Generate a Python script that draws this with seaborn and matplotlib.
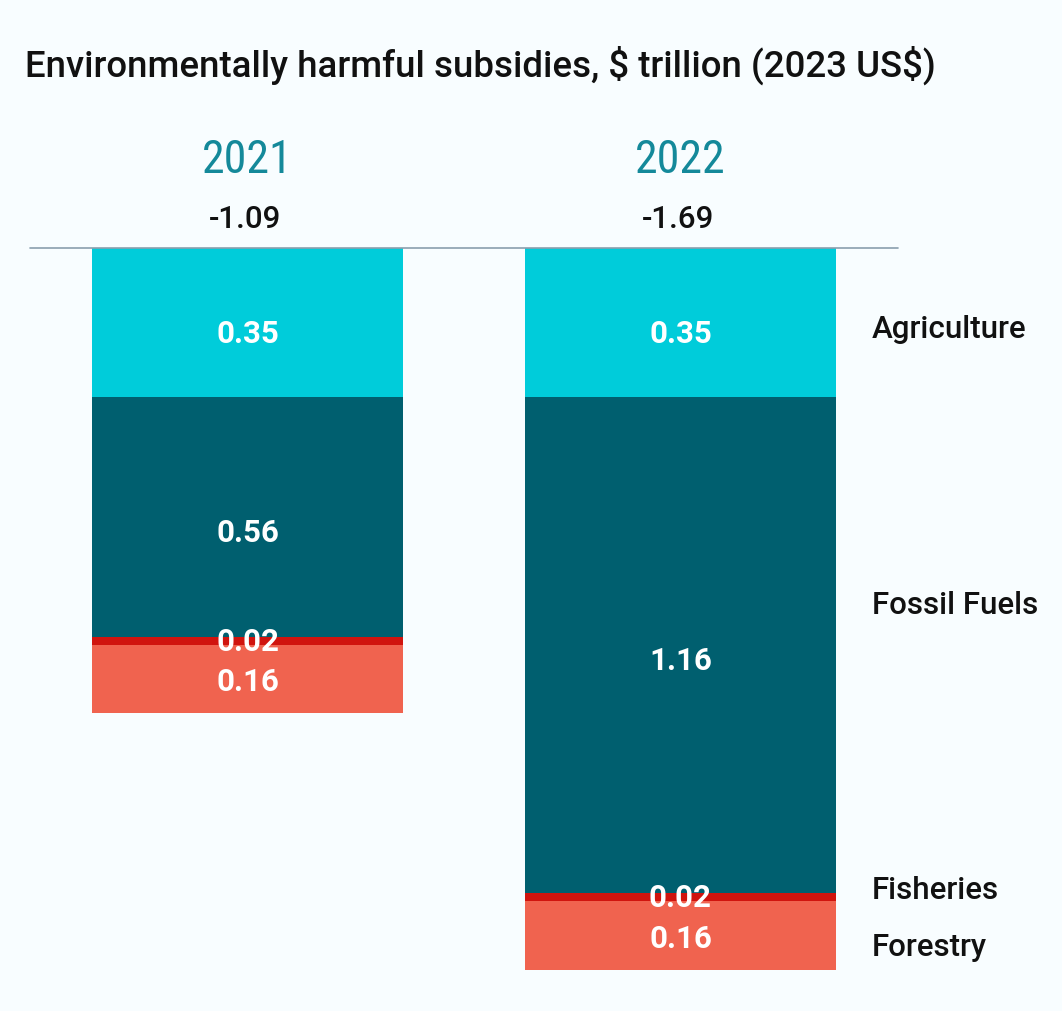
import numpy as np
import pandas as pd
import matplotlib
matplotlib.use("Agg")
import matplotlib.pyplot as plt
import seaborn as sns

# ---- data ----
years = ["2021", "2022"]
categories = ["Agriculture", "Fossil Fuels", "Fisheries", "Forestry"]
agriculture = [0.35, 0.35]
fossil_fuels = [0.56, 1.16]
fisheries = [0.02, 0.02]
forestry = [0.16, 0.16]
totals = [-1.09, -1.69]

colors = {"Agriculture": "#00CCDA", "Fossil Fuels": "#005F6F",
          "Fisheries": "#D0140E", "Forestry": "#F0634F"}
BG = "#F8FDFF"

sns.set_theme(style="white")
plt.rcParams["font.family"] = ["Roboto", "DejaVu Sans"]

W, H = 1062, 1012
fig = plt.figure(figsize=(W / 100, H / 100), dpi=100, facecolor=BG)
ax = fig.add_axes([0, 0, 1, 1 - 249 / H])
ax.set_facecolor(BG)

series = [agriculture, fossil_fuels, fisheries, forestry]
df = pd.DataFrame({"year": np.repeat(years, len(categories)),
                   "category": categories * len(years),
                   "value": [series[c][y] for y in range(len(years)) for c in range(len(categories))]})
df["cum"] = df.groupby("year")["value"].cumsum()
df["start"] = df["cum"] - df["value"]

# draw cumulative extents from deepest to shallowest so each segment shows
for cat in categories[::-1]:
    sub = df[df["category"] == cat]
    sns.barplot(data=sub, x="year", y=-sub["cum"].values, order=years,
                color=colors[cat], width=0.718, saturation=1, ax=ax,
                linewidth=0, edgecolor="none")

px_per_unit = 427.0
ax.set_ylim(-(H - 249) / px_per_unit, 0)
ax.set_xlim(-247.5 / 433, (W - 247.5) / 433)
ax.axhline(0, xmin=30 / W, xmax=898 / W, color="#8A9FAE", lw=1.2, zorder=5, clip_on=False)

for side in ax.spines.values():
    side.set_visible(False)
ax.set_xticks([]); ax.set_yticks([])
ax.set_xlabel(""); ax.set_ylabel("")

# value labels
label_offset = {"Agriculture": 0.025, "Fossil Fuels": 0.035, "Fisheries": 0.01, "Forestry": 0.005}
for _, r in df.iterrows():
    xi = years.index(r["year"])
    if r["category"] == "Fisheries":
        yv = -r["start"] - label_offset["Fisheries"]
    else:
        yv = -(r["start"] + r["value"] / 2) - label_offset[r["category"]]
    ax.text(xi, yv, f"{r['value']:.2f}", ha="center", va="center",
            color="white", fontsize=22.5, fontweight="bold", zorder=6)

# year headers and totals
for xi, (yr, tot) in enumerate(zip(years, totals)):
    fig.text((247.5 + 433 * xi) / W, 1 - 160 / H, yr, ha="center", va="center",
             color="#14899A", fontsize=33,
             family=["Liberation Sans Narrow", "Roboto Condensed", "DejaVu Sans"])
    fig.text((245 + 433 * xi) / W, 1 - 220 / H, f"{tot:.2f}", ha="center", va="center",
             color="#111111", fontsize=22.5, fontweight="medium")

# category labels on right
label_y = {"Agriculture": 330, "Fossil Fuels": 605, "Fisheries": 891, "Forestry": 948}
for cat in categories:
    fig.text(872 / W, 1 - label_y[cat] / H, cat, ha="left", va="center",
             color="#111111", fontsize=22.5, fontweight="medium")

fig.text(25 / W, 1 - 65 / H, "Environmentally harmful subsidies, \\$ trillion (2023 US\\$)",
         ha="left", va="center", color="#111111", fontsize=26.4, fontweight="medium")

fig.savefig("out.png", dpi=100, facecolor=BG)
